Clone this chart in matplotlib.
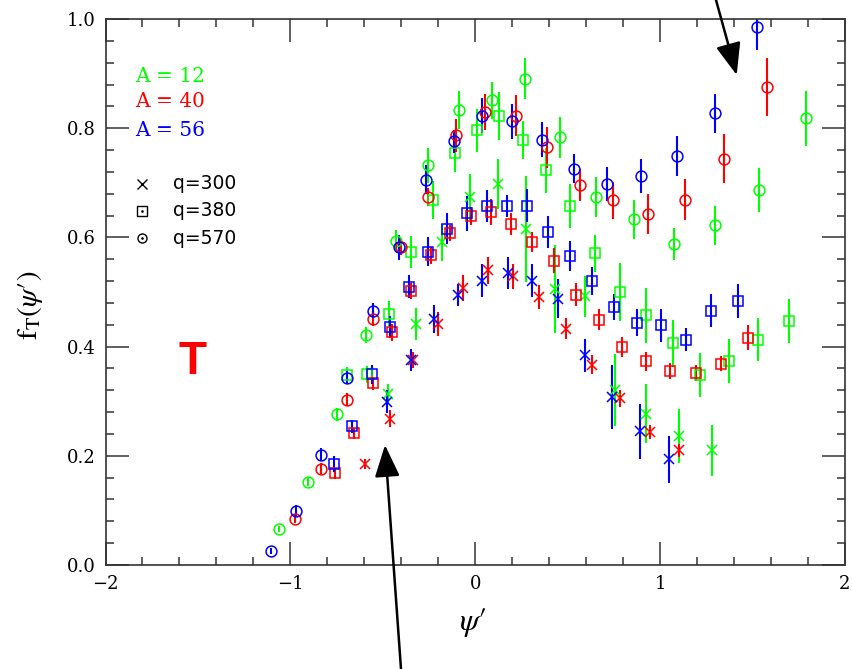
import matplotlib
matplotlib.use("Agg")
import matplotlib.pyplot as plt
from matplotlib.patches import FancyArrowPatch
from matplotlib.ticker import MultipleLocator, FixedLocator

# ---------------- data: f_T(psi') for three nuclei and three q values ----------------
# A = 12 (green)
a12_q570_x = [-1.061, -0.907, -0.747, -0.590, -0.426, -0.257, -0.088, 0.091, 0.269, 0.458,
              0.651, 0.858, 1.073, 1.296, 1.536, 1.790]
a12_q570_y = [0.066, 0.152, 0.276, 0.421, 0.593, 0.732, 0.834, 0.851, 0.891, 0.783,
              0.674, 0.633, 0.588, 0.622, 0.687, 0.818]
a12_q570_e = [0.006, 0.008, 0.012, 0.015, 0.020, 0.032, 0.035, 0.034, 0.038, 0.037,
              0.036, 0.036, 0.030, 0.036, 0.041, 0.051]

a12_q380_x = [-0.696, -0.583, -0.468, -0.349, -0.228, -0.112, 0.008, 0.131, 0.257, 0.385,
              0.512, 0.646, 0.783, 0.922, 1.069, 1.214, 1.370, 1.529, 1.696]
a12_q380_y = [0.348, 0.349, 0.460, 0.573, 0.669, 0.754, 0.796, 0.822, 0.779, 0.723,
              0.657, 0.571, 0.500, 0.457, 0.406, 0.348, 0.374, 0.413, 0.447]
a12_q380_e = [0.014, 0.015, 0.023, 0.029, 0.035, 0.035, 0.040, 0.044, 0.035, 0.041,
              0.040, 0.034, 0.054, 0.051, 0.043, 0.040, 0.040, 0.039, 0.040]

a12_q300_x = [-0.471, -0.323, -0.179, -0.030, 0.122, 0.273, 0.430, 0.592, 0.754, 0.925,
              1.100, 1.282]
a12_q300_y = [0.314, 0.441, 0.591, 0.674, 0.698, 0.615, 0.505, 0.492, 0.320, 0.277,
              0.236, 0.210]
a12_q300_e = [0.017, 0.029, 0.034, 0.043, 0.046, 0.097, 0.081, 0.037, 0.066, 0.054,
              0.049, 0.047]

# A = 40 (red)
a40_q570_x = [-0.976, -0.835, -0.695, -0.552, -0.404, -0.253, -0.102, 0.055, 0.219, 0.388,
              0.565, 0.743, 0.934, 1.134, 1.345, 1.576]
a40_q570_y = [0.085, 0.176, 0.303, 0.451, 0.583, 0.674, 0.787, 0.829, 0.823, 0.765,
              0.696, 0.668, 0.643, 0.669, 0.744, 0.876]
a40_q570_e = [0.008, 0.010, 0.012, 0.014, 0.015, 0.017, 0.030, 0.033, 0.037, 0.037,
              0.030, 0.034, 0.037, 0.038, 0.045, 0.053]

a40_q380_x = [-0.758, -0.657, -0.554, -0.450, -0.349, -0.241, -0.136, -0.024, 0.084, 0.196,
              0.309, 0.426, 0.547, 0.668, 0.794, 0.922, 1.051, 1.192, 1.331, 1.478]
a40_q380_y = [0.168, 0.241, 0.333, 0.426, 0.502, 0.567, 0.608, 0.639, 0.647, 0.625,
              0.591, 0.557, 0.495, 0.449, 0.399, 0.373, 0.355, 0.352, 0.369, 0.416]
a40_q380_e = [0.010, 0.010, 0.012, 0.015, 0.015, 0.015, 0.014, 0.017, 0.024, 0.020,
              0.018, 0.023, 0.021, 0.019, 0.018, 0.018, 0.015, 0.015, 0.014, 0.023]

a40_q300_x = [-0.594, -0.462, -0.336, -0.201, -0.066, 0.068, 0.204, 0.345, 0.489, 0.634,
              0.785, 0.943, 1.102]
a40_q300_y = [0.185, 0.268, 0.376, 0.442, 0.508, 0.540, 0.529, 0.491, 0.433, 0.367,
              0.305, 0.243, 0.210]
a40_q300_e = [0.010, 0.015, 0.015, 0.022, 0.024, 0.025, 0.023, 0.022, 0.019, 0.017,
              0.015, 0.013, 0.012]

# A = 56 (blue)
a56_q570_x = [-1.105, -0.970, -0.835, -0.696, -0.552, -0.410, -0.264, -0.115, 0.039, 0.197,
              0.361, 0.532, 0.711, 0.895, 1.093, 1.298, 1.522]
a56_q570_y = [0.026, 0.099, 0.202, 0.343, 0.466, 0.582, 0.706, 0.776, 0.823, 0.813,
              0.779, 0.726, 0.698, 0.713, 0.749, 0.827, 0.986]
a56_q570_e = [0.006, 0.010, 0.012, 0.012, 0.013, 0.023, 0.026, 0.021, 0.032, 0.032,
              0.032, 0.026, 0.031, 0.031, 0.036, 0.036, 0.043]

a56_q380_x = [-0.763, -0.664, -0.561, -0.462, -0.359, -0.255, -0.152, -0.046, 0.061, 0.172,
              0.282, 0.395, 0.511, 0.631, 0.750, 0.877, 1.006, 1.139, 1.277, 1.421]
a56_q380_y = [0.185, 0.254, 0.349, 0.436, 0.510, 0.574, 0.616, 0.644, 0.657, 0.657,
              0.658, 0.610, 0.566, 0.520, 0.472, 0.444, 0.439, 0.413, 0.466, 0.483]
a56_q380_e = [0.014, 0.012, 0.018, 0.020, 0.021, 0.026, 0.029, 0.032, 0.029, 0.020,
              0.030, 0.029, 0.027, 0.026, 0.024, 0.024, 0.030, 0.021, 0.030, 0.031]

a56_q300_x = [-0.480, -0.349, -0.224, -0.096, 0.039, 0.176, 0.308, 0.449, 0.592, 0.739,
              0.893, 1.048]
a56_q300_y = [0.299, 0.376, 0.450, 0.494, 0.521, 0.535, 0.521, 0.488, 0.384, 0.308,
              0.245, 0.194]
a56_q300_e = [0.021, 0.020, 0.026, 0.020, 0.030, 0.030, 0.030, 0.035, 0.030, 0.058,
              0.050, 0.043]

nuclei_labels = ["A = 12", "A = 40", "A = 56"]
q_labels = ["q=300", "q=380", "q=570"]
x_ticks = [-2, -1, 0, 1, 2]
y_ticks = [0.0, 0.2, 0.4, 0.6, 0.8, 1.0]

# ---------------- styling ----------------
GREEN, RED, BLUE = "#00ff00", "#ff0000", "#0000ff"
nucleus_colors = [GREEN, RED, BLUE]
q_markers = ["x", "s", "o"]
marker_size = {"x": 7.0, "s": 7.8, "o": 7.8}

series = [
    (a12_q300_x, a12_q300_y, a12_q300_e, GREEN, "x"),
    (a12_q380_x, a12_q380_y, a12_q380_e, GREEN, "s"),
    (a12_q570_x, a12_q570_y, a12_q570_e, GREEN, "o"),
    (a40_q300_x, a40_q300_y, a40_q300_e, RED, "x"),
    (a40_q380_x, a40_q380_y, a40_q380_e, RED, "s"),
    (a40_q570_x, a40_q570_y, a40_q570_e, RED, "o"),
    (a56_q300_x, a56_q300_y, a56_q300_e, BLUE, "x"),
    (a56_q380_x, a56_q380_y, a56_q380_e, BLUE, "s"),
    (a56_q570_x, a56_q570_y, a56_q570_e, BLUE, "o"),
]

plt.rcParams["mathtext.fontset"] = "stix"

fig = plt.figure(figsize=(8.52, 6.69), dpi=100)
W, H = 852.0, 669.0
ax = fig.add_axes([105.5 / W, (H - 565) / H, (845 - 105.5) / W, (565 - 19) / H])

for xs, ys, es, col, mk in series:
    ax.errorbar(xs, ys, yerr=es, fmt=mk, linestyle="none", ms=marker_size[mk],
                mfc="none", mec=col, mew=1.1, ecolor=col, elinewidth=1.5,
                capsize=0)

ax.set_xlim(-2, 2)
ax.set_ylim(0, 1)
ax.xaxis.set_major_locator(FixedLocator(x_ticks))
ax.yaxis.set_major_locator(FixedLocator(y_ticks))
ax.xaxis.set_minor_locator(MultipleLocator(0.2))
ax.yaxis.set_minor_locator(MultipleLocator(0.04))
ax.set_xticklabels(["\u2212" + str(abs(t)) if t < 0 else str(t) for t in x_ticks])
ax.set_yticklabels([f"{t:.1f}" for t in y_ticks])

ax.tick_params(which="both", direction="in", top=True, right=True,
               color="#333333", width=1.1)
ax.tick_params(which="major", length=16.5, labelsize=13, pad=7)
ax.tick_params(which="minor", length=5.5)
for lab in ax.get_xticklabels() + ax.get_yticklabels():
    lab.set_family("DejaVu Serif")
for sp in ax.spines.values():
    sp.set_linewidth(1.2)
    sp.set_color("#333333")

ax.set_xlabel(r"$\psi\prime$", fontsize=23)
ax.xaxis.set_label_coords(0.497, -0.075)
ax.set_ylabel(r"$\mathrm{f}_{\mathrm{T}}(\psi\prime)$", fontsize=21, va="center")
ax.yaxis.set_label_coords(-0.102, 0.476)

# nucleus legend
for i, (lab, col) in enumerate(zip(nuclei_labels, nucleus_colors)):
    ax.text(0.040, [0.8956, 0.8480, 0.7967][i], lab, transform=ax.transAxes,
            color=col, fontsize=14.5, family="DejaVu Serif", va="center", ha="left")

# momentum-transfer legend
for i, (lab, mk) in enumerate(zip(q_labels, q_markers)):
    yy = [0.6983, 0.6484, 0.5983][i]
    ax.plot([0.0494], [yy], marker=mk, ms=6.5, mfc="none", mec="black", mew=1.0,
            linestyle="none", transform=ax.transAxes, clip_on=False)
    if mk != "x":
        ax.plot([0.0494], [yy], marker=".", ms=1.8, color="black",
                transform=ax.transAxes, clip_on=False)
    ax.text(0.0909, yy, lab, transform=ax.transAxes, color="black",
            fontsize=13.5, family="DejaVu Sans", va="center", ha="left")

# panel letter
ax.text(0.117, 0.372, "T", transform=ax.transAxes, color=RED, fontsize=33,
        fontweight="bold", family="Liberation Sans", ha="center", va="center")

# arrows
for tail, tip in [((401 / W, 0.0), (385 / W, 1 - 445 / H)),
                  ((716 / W, 1.0), (736.7 / W, 1 - 75 / H))]:
    arr = FancyArrowPatch(tail, tip, transform=fig.transFigure,
                          arrowstyle="-|>,head_length=1.4,head_width=0.55",
                          mutation_scale=14, color="black", lw=1.8,
                          shrinkA=0, shrinkB=0)
    fig.add_artist(arr)

fig.savefig("out.png", dpi=100)
